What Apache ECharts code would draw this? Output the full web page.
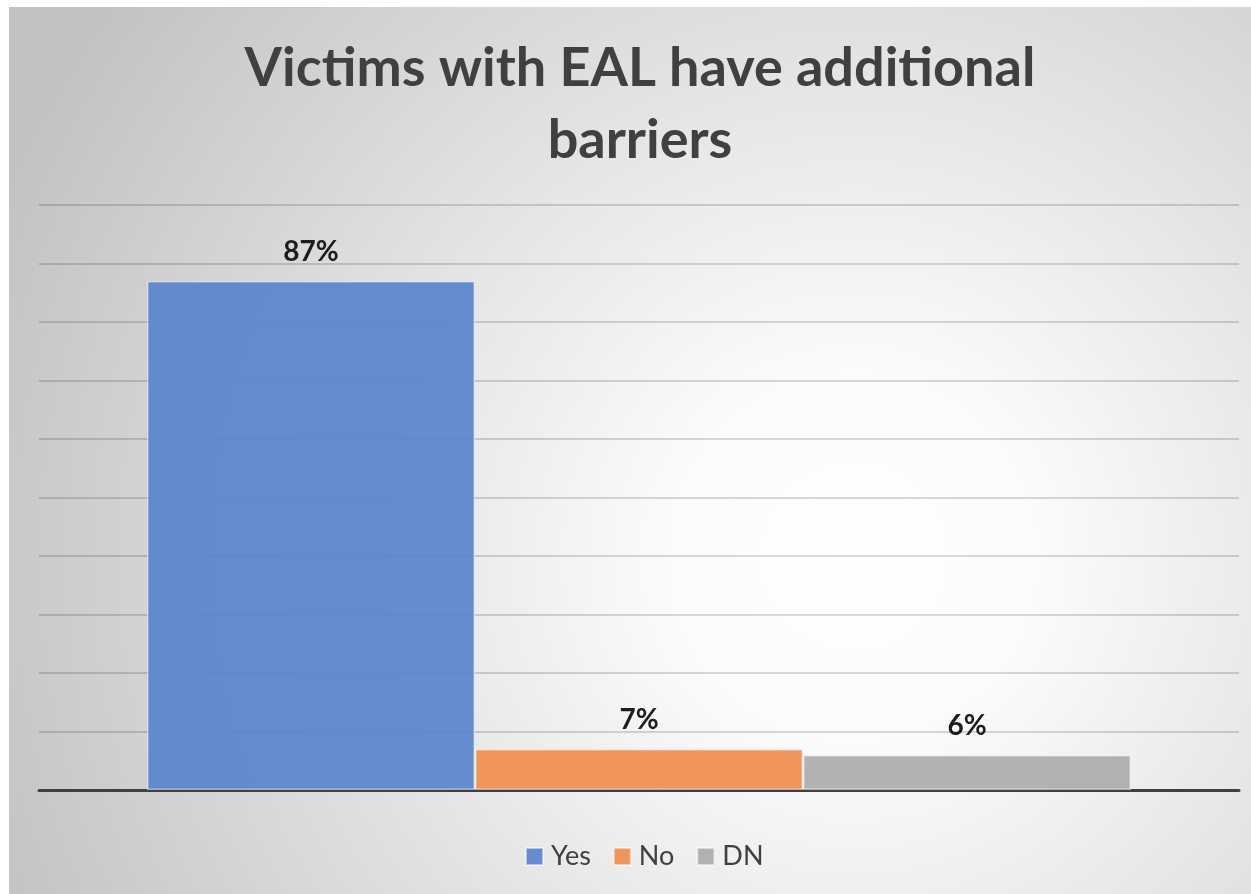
<!DOCTYPE html>
<html>
<head>
<meta charset="utf-8">
<script src="https://cdn.jsdelivr.net/npm/echarts@6/dist/echarts.min.js"></script>
<style>
  html, body { margin: 0; padding: 0; background: #ffffff; width: 1251px; height: 894px; overflow: hidden; }
  #chart { position: absolute; left: 9px; top: 7px; width: 1242px; height: 887px; }
</style>
</head>
<body>
<div id="chart"></div>
<script>
const titleText = 'Victims with EAL have additional\nbarriers';
const categories = [''];
const seriesNames = ['Yes', 'No', 'DN'];
const yesValues = [87];
const noValues = [7];
const dnValues = [6];
const seriesColors = ['#5a84cb', '#ef8e4e', '#acacac'];

const chart = echarts.init(document.getElementById('chart'));
const valueSets = [yesValues, noValues, dnValues];

const option = {
  backgroundColor: {
    type: 'radial', x: 0.68, y: 0.62, r: 1.05,
    colorStops: [
      { offset: 0, color: '#ffffff' },
      { offset: 0.2, color: '#fbfbfb' },
      { offset: 1, color: '#c2c2c2' }
    ]
  },
  animation: false,
  title: {
    text: titleText,
    left: 626,
    textAlign: 'center',
    top: 21,
    textStyle: {
      fontFamily: 'Lato',
      fontWeight: 'bold',
      fontSize: 54,
      lineHeight: 72,
      color: '#404040'
    }
  },
  legend: {
    data: seriesNames,
    bottom: 19,
    left: 511,
    icon: 'rect',
    itemWidth: 17,
    itemHeight: 17,
    itemGap: 22,
    textStyle: { fontFamily: 'Lato', fontSize: 27, color: '#404040', padding: [0, 0, 0, 3] }
  },
  grid: { left: 30, right: 12, top: 198, bottom: 104 },
  xAxis: {
    type: 'category',
    data: categories,
    axisLine: { lineStyle: { color: '#404040', width: 3 } },
    axisTick: { show: false },
    axisLabel: { show: false }
  },
  yAxis: {
    type: 'value',
    min: 0, max: 100, interval: 10,
    axisLine: { show: false },
    axisTick: { show: false },
    axisLabel: { show: false },
    splitLine: { lineStyle: { color: 'rgba(0,0,0,0.2)', width: 1.5 } }
  },
  series: seriesNames.map((name, i) => ({
    name: name,
    type: 'bar',
    data: valueSets[i],
    barGap: '0%',
    barCategoryGap: '18%',
    itemStyle: { color: seriesColors[i], opacity: 0.93, borderColor: 'rgba(255,255,255,0.55)', borderWidth: 1.5 },
    label: {
      show: true,
      position: 'top',
      distance: 15,
      formatter: '{c}%',
      fontFamily: 'Lato',
      fontWeight: 'bold',
      fontSize: 28,
      color: '#0d0d0d'
    }
  }))
};
chart.setOption(option);
</script>
</body>
</html>
